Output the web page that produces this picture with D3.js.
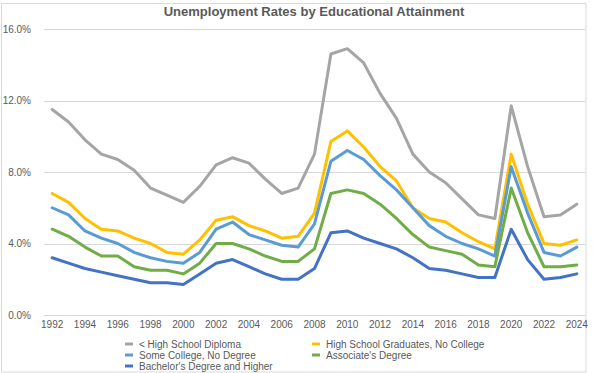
<!DOCTYPE html>
<html>
<head>
<meta charset="utf-8">
<script src="https://cdn.jsdelivr.net/npm/d3@7"></script>
<style>
  html, body { margin: 0; padding: 0; background: #fff; }
  svg { display: block; font-family: "Liberation Sans", Arial, sans-serif; }
  .tick-label { fill: #595959; font-size: 10px; }
  .legend-label { fill: #595959; font-size: 10px; }
</style>
</head>
<body>
<div id="chart"></div>
<script>
(() => {
  "use strict";

  // Annual unemployment rates (%)
  const years = d3.range(1992, 2025);
  const lessThanHS = [11.5, 10.8, 9.8, 9.0, 8.7, 8.1, 7.1, 6.7, 6.3, 7.2, 8.4, 8.8, 8.5, 7.6, 6.8, 7.1, 9.0,
    14.6, 14.9, 14.1, 12.4, 11.0, 9.0, 8.0, 7.4, 6.5, 5.6, 5.4, 11.7, 8.3, 5.5, 5.6, 6.2];
  const hsGrad = [6.8, 6.3, 5.4, 4.8, 4.7, 4.3, 4.0, 3.5, 3.4, 4.2, 5.3, 5.5, 5.0, 4.7, 4.3, 4.4, 5.7,
    9.7, 10.3, 9.4, 8.3, 7.5, 6.0, 5.4, 5.2, 4.6, 4.1, 3.7, 9.0, 6.2, 4.0, 3.9, 4.2];
  const someCollege = [6.0, 5.6, 4.7, 4.3, 4.0, 3.5, 3.2, 3.0, 2.9, 3.5, 4.8, 5.2, 4.5, 4.2, 3.9, 3.8, 5.1,
    8.6, 9.2, 8.7, 7.8, 7.0, 6.0, 5.0, 4.4, 4.0, 3.7, 3.3, 8.3, 5.7, 3.5, 3.3, 3.8];
  const associate = [4.8, 4.4, 3.8, 3.3, 3.3, 2.7, 2.5, 2.5, 2.3, 2.9, 4.0, 4.0, 3.7, 3.3, 3.0, 3.0, 3.7,
    6.8, 7.0, 6.8, 6.2, 5.4, 4.5, 3.8, 3.6, 3.4, 2.8, 2.7, 7.1, 4.6, 2.7, 2.7, 2.8];
  const bachelor = [3.2, 2.9, 2.6, 2.4, 2.2, 2.0, 1.8, 1.8, 1.7, 2.3, 2.9, 3.1, 2.7, 2.3, 2.0, 2.0, 2.6,
    4.6, 4.7, 4.3, 4.0, 3.7, 3.2, 2.6, 2.5, 2.3, 2.1, 2.1, 4.8, 3.1, 2.0, 2.1, 2.3];

  const seriesNames = ["< High School Diploma", "High School Graduates, No College",
    "Some College, No Degree", "Associate's Degree", "Bachelor's Degree and Higher"];
  const seriesColors = ["#A5A5A5", "#FFC000", "#5B9BD5", "#70AD47", "#4472C4"];
  const seriesValues = [lessThanHS, hsGrad, someCollege, associate, bachelor];
  const yTicks = [0, 4, 8, 12, 16];
  const xTickYears = years.filter((y) => y % 2 === 0);

  const W = 593, H = 373;
  const plot = { left: 44, right: 585, top: 29, bottom: 315 };

  const svg = d3.select("#chart").append("svg").attr("width", W).attr("height", H);

  // chart border
  svg.append("rect")
    .attr("x", 1.5).attr("y", 3.5).attr("width", 584.5).attr("height", 368.5)
    .attr("fill", "#fff").attr("stroke", "#D9D9D9").attr("stroke-width", 1);

  const x = d3.scalePoint().domain(years).range([plot.left, plot.right]).padding(0.5);
  const y = d3.scaleLinear().domain([0, 16]).range([plot.bottom, plot.top]);

  // gridlines + y labels
  const yAxis = svg.append("g");
  yAxis.selectAll("line").data(yTicks).join("line")
    .attr("x1", plot.left).attr("x2", plot.right)
    .attr("y1", (d) => Math.round(y(d)) + 0.5).attr("y2", (d) => Math.round(y(d)) + 0.5)
    .attr("stroke", "#D9D9D9").attr("stroke-width", 1);
  yAxis.selectAll("text").data(yTicks).join("text")
    .attr("class", "tick-label")
    .attr("x", 31).attr("y", (d) => y(d) + 3.5)
    .attr("text-anchor", "end")
    .text((d) => d.toFixed(1) + "%");

  // x labels
  svg.append("g").selectAll("text").data(xTickYears).join("text")
    .attr("class", "tick-label")
    .attr("x", (d) => x(d)).attr("y", 328)
    .attr("text-anchor", "middle")
    .text((d) => d);

  // lines
  const line = d3.line()
    .x((d, i) => x(years[i]))
    .y((d) => y(d));
  svg.append("g").selectAll("path").data(seriesValues).join("path")
    .attr("d", (d) => line(d))
    .attr("fill", "none")
    .attr("stroke", (d, i) => seriesColors[i])
    .attr("stroke-width", 3)
    .attr("stroke-linejoin", "round")
    .attr("stroke-linecap", "round");

  // title, sized to the reference width
  const title = svg.append("text")
    .attr("x", 314).attr("y", 16)
    .attr("text-anchor", "middle")
    .attr("fill", "#595959")
    .style("font-weight", "bold")
    .style("font-size", "13px")
    .text("Unemployment Rates by Educational Attainment");
  const tw = title.node().getComputedTextLength();
  title.style("font-size", (13 * 301 / tw).toFixed(2) + "px");

  // legend: two columns, row-major
  const legendCols = [125, 312];
  const legendRows = [344, 355, 366];
  const lg = svg.append("g").selectAll("g").data(seriesNames).join("g")
    .attr("transform", (d, i) => `translate(${legendCols[i % 2]},${legendRows[Math.floor(i / 2)]})`);
  lg.append("line")
    .attr("x1", 0).attr("x2", 8).attr("y1", 0).attr("y2", 0)
    .attr("stroke", (d, i) => seriesColors[i]).attr("stroke-width", 3);
  lg.append("text")
    .attr("class", "legend-label")
    .attr("x", 14).attr("y", 3.5)
    .text((d) => d);
})();
</script>
</body>
</html>
